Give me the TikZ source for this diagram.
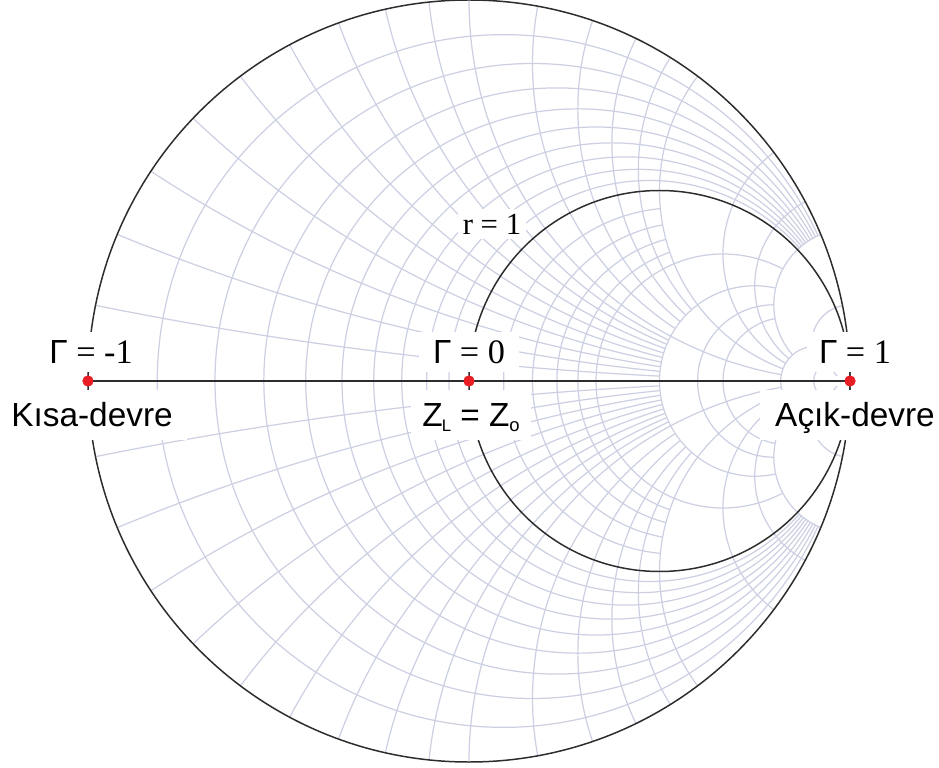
\documentclass[tikz,border=0pt]{standalone}
\usepackage{fontspec}
\setmainfont{Liberation Serif}
\newfontfamily\arialf{Liberation Sans}
\definecolor{gridc}{RGB}{204,208,226}
\definecolor{dotred}{RGB}{232,30,36}
\definecolor{darkline}{RGB}{45,45,45}
% constant-resistance circle r, from reactance #2 to #3 (both halves)
\newcommand\smithR[3]{%
  \pgfmathsetmacro\cc{381*#1/(1+#1)}%
  \pgfmathsetmacro\RR{381/(1+#1)}%
  \pgfmathsetmacro\ta{180-2*atan(#2/(1+#1))}%
  \pgfmathsetmacro\tb{180-2*atan(#3/(1+#1))}%
  \pgfmathsetmacro\tc{-\ta}%
  \pgfmathsetmacro\td{-\tb}%
  \draw[smithgrid] ({\cc+\RR*cos(\ta)},{\RR*sin(\ta)}) arc[start angle=\ta,end angle=\tb,radius=\RR];
  \draw[smithgrid] ({\cc+\RR*cos(\ta)},{-\RR*sin(\ta)}) arc[start angle=\tc,end angle=\td,radius=\RR];
}
% constant-reactance arc x, from resistance #2 to #3 (both halves)
\newcommand\smithX[3]{%
  \pgfmathsetmacro\RR{381/#1}%
  \pgfmathsetmacro\aa{-90-2*atan(#1/(1+#2))}%
  \pgfmathsetmacro\ab{-90-2*atan(#1/(1+#3))}%
  \pgfmathsetmacro\ba{90+2*atan(#1/(1+#2))}%
  \pgfmathsetmacro\bb{90+2*atan(#1/(1+#3))}%
  \draw[smithgrid] ({381+\RR*cos(\aa)},{\RR+\RR*sin(\aa)}) arc[start angle=\aa,end angle=\ab,radius=\RR];
  \draw[smithgrid] ({381+\RR*cos(\ba)},{-\RR+\RR*sin(\ba)}) arc[start angle=\ba,end angle=\bb,radius=\RR];
}
\begin{document}
\begin{tikzpicture}[x=0.02cm,y=0.02cm,
  smithgrid/.style={draw=gridc,line width=0.7pt},
  chartline/.style={draw=darkline,line width=0.85pt},
  axisline/.style={draw=darkline,line width=0.8pt},
  mask/.style={fill=white,inner sep=0pt,text height=13.3pt,text depth=0pt},
  sansbig/.style={font=\arialf\fontsize{19}{21}\selectfont},
  serifbig/.style={font=\fontsize{19.5}{21}\selectfont},
  dot/.style={circle,fill=dotred,inner sep=0pt,minimum size=0.22cm}]
\useasboundingbox (-469,-386) rectangle (470,381);
% ---- grid: constant r circles
\foreach \r in {0.1,0.2,0.3,0.4,0.5,0.6,0.7,0.8,0.9} {\smithR{\r}{0}{5}}
\foreach \r in {1.2,1.4,1.6,1.8} {\smithR{\r}{0}{2}}
\foreach \r in {2,3,4,5} {\smithR{\r}{0}{5}}
\smithR{10}{0}{10}
\smithR{20}{0}{20}
% ---- grid: constant x arcs
\foreach \x in {0.1,0.2,0.3,0.4,0.5,0.6,0.7,0.8,0.9} {\smithX{\x}{0}{3}}
\foreach \x in {1.2,1.4,1.6,1.8} {\smithX{\x}{0}{3}}
\foreach \x in {1,2,3,4,5} {\smithX{\x}{0}{10}}
\smithX{10}{0}{20}
\smithX{20}{0}{50}
% ---- main circles
\draw[chartline] (0,0) circle[radius=381];
\draw[chartline] (190.5,0) circle[radius=190.5];
% ---- labels with white masks
\node[mask,serifbig,minimum width=2.24cm,minimum height=0.82cm] (lgm) at (-378,29) {{\arialf\fontsize{19}{21}\selectfont Γ} = -1};
\node[mask,sansbig,minimum width=3.8cm,minimum height=1.0cm] (lks) at (-377,-34) {Kısa-devre};
\node[mask,serifbig,minimum width=2.0cm,minimum height=0.82cm] (lg0) at (0,29) {{\arialf\fontsize{19}{21}\selectfont Γ} = 0};
\node[mask,sansbig,minimum width=2.4cm,minimum height=1.0cm] (lzz) at (2,-34) {Z\kern-0.5pt\raisebox{-2.5pt}{\fontsize{9.5}{9.5}\selectfont L} = Z\raisebox{-2.5pt}{\fontsize{10.5}{10.5}\selectfont o}};
\node[mask,serifbig,minimum width=1.92cm,minimum height=0.82cm] (lg1) at (386,29) {{\arialf\fontsize{19}{21}\selectfont Γ} = 1};
\node[mask,sansbig,minimum width=3.8cm,minimum height=1.0cm] (lac) at (386,-34) {Açık-devre};
\node[fill=white,inner sep=3pt,font=\fontsize{17.5}{19}\selectfont] (lr1) at (23,157) {r = 1};
% ---- axis and points
\node[dot] (pm1) at (-381,0) {};
\node[dot] (p0) at (0,0) {};
\node[dot] (p1) at (381,0) {};
\draw[axisline] (pm1.center) -- (p1.center);
\node[dot] at (pm1) {};
\node[dot] at (p0) {};
\node[dot] at (p1) {};
\end{tikzpicture}
\end{document}
